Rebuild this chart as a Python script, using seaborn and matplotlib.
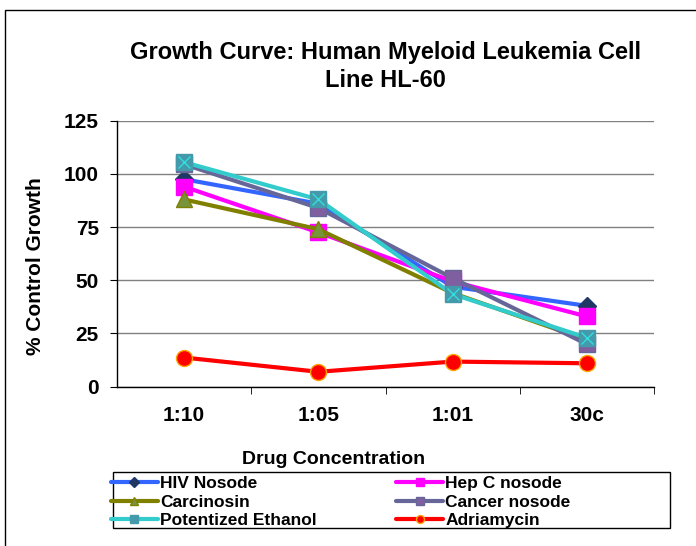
import numpy as np
import pandas as pd
import matplotlib
matplotlib.use("Agg")
import matplotlib.pyplot as plt
import seaborn as sns
from matplotlib.patches import Rectangle

# Valores
concentraciones = ["1:10", "1:05", "1:01", "30c"]
hiv_nosode = [97.5, 86, 47, 38]
hep_c_nosode = [94, 72.5, 49.5, 33]
carcinosin = [88, 74, 44, 22]
cancer_nosode = [104.5, 84, 51, 20]
etanol_potenciado = [105.5, 88, 43.5, 23]
adriamycin = [13.7, 7, 11.8, 11]

series = [
    ("HIV Nosode", hiv_nosode, "#3366FF", "D", "#1F3864", "#1F3864"),
    ("Hep C nosode", hep_c_nosode, "#FF00FF", "s", "#FF00FF", "#FF00FF"),
    ("Carcinosin", carcinosin, "#808000", "^", "#77933C", "#808000"),
    ("Cancer nosode", cancer_nosode, "#666699", "s", "#7F5F9F", "#666699"),
    ("Potentized Ethanol", etanol_potenciado, "#33CCCC", "s", "#4499AA", "#4499AA"),
    ("Adriamycin", adriamycin, "#FF0000", "o", "#FF0000", "#FFA500"),
]

sns.set_style("white")
plt.rcParams['font.family'] = ['Liberation Sans', 'DejaVu Sans']
plt.rcParams['font.weight'] = 'bold'
for clave in ['text.color', 'axes.labelcolor', 'xtick.color', 'ytick.color']:
    plt.rcParams[clave] = 'black'

fig = plt.figure(figsize=(6.96, 5.46), dpi=100)
ax = fig.add_axes([117 / 696, 1 - 386.7 / 546, 537 / 696, 266 / 546])

for nombre, valores, color, marcador, cara, borde in series:
    df = pd.DataFrame({"Concentracion": concentraciones, "Crecimiento": valores})
    sns.lineplot(data=df, x="Concentracion", y="Crecimiento", ax=ax, color=color,
                 linewidth=3, marker=marcador, markersize=11.5 if marcador != "D" else 9.5,
                 markerfacecolor=cara, markeredgecolor=borde, markeredgewidth=1,
                 label=nombre, sort=False)
    if nombre == "Potentized Ethanol":
        sns.lineplot(data=df, x="Concentracion", y="Crecimiento", ax=ax, color="#33CCCC",
                     linewidth=0, marker="x", markersize=9, markeredgewidth=1,
                     markeredgecolor="#33DDDD", legend=False, sort=False)

ax.set_xlim(-0.5, 3.5)
ax.set_ylim(0, 125)
ax.set_yticks([0, 25, 50, 75, 100, 125])
ax.yaxis.grid(True, color="#808080", linewidth=1)
ax.set_axisbelow(True)
for lado in ["top", "right"]:
    ax.spines[lado].set_visible(False)
for lado in ["left", "bottom"]:
    ax.spines[lado].set_color("black")
    ax.spines[lado].set_linewidth(1)

ax.set_xticks(range(len(concentraciones)))
ax.set_xticklabels(concentraciones)
ax.set_xticks([0.5, 1.5, 2.5, 3.5], minor=True)
ax.tick_params(axis="x", which="major", length=0, pad=14, labelsize=15)
ax.tick_params(axis="x", which="minor", length=5, direction="out", color="black")
ax.tick_params(axis="y", length=5, direction="out", color="black", labelsize=15, pad=8)
ax.tick_params(left=True, bottom=True)
ax.xaxis.set_tick_params(which="minor", bottom=True)

ax.set_title("Growth Curve: Human Myeloid Leukemia Cell\nLine HL-60",
             fontsize=17, fontweight="bold", pad=24, linespacing=1.3)
ax.set_xlabel("Drug Concentration", fontsize=14, fontweight="bold")
ax.xaxis.set_label_coords(0.404, -0.24)
ax.set_ylabel("% Control Growth", fontsize=15, fontweight="bold")
ax.yaxis.set_label_coords(-0.135, 0.454)

# Leyenda en dos columnas, ordenada por filas como el original
h, l = ax.get_legend_handles_labels()
ax.get_legend().remove()
orden = [0, 2, 4, 1, 3, 5]
fig.legend([h[i] for i in orden], [l[i] for i in orden], ncol=2,
           loc="upper left", bbox_to_anchor=(111 / 696, 1 - 476 / 546),
           fontsize=12.5, frameon=False, borderpad=0, labelspacing=0.2,
           handlelength=2.7, handletextpad=0.12, markerscale=0.5,
           borderaxespad=0, columnspacing=4.6)
fig.patches.append(Rectangle((113 / 696, 1 - 528 / 546), 557 / 696, 56 / 546,
                             transform=fig.transFigure, fill=False,
                             edgecolor="black", linewidth=1))

# Borde exterior del area del grafico
fig.patches.append(Rectangle((5 / 696, -0.1), 1.2, 1 - 10 / 546 + 0.1, transform=fig.transFigure,
                             fill=False, edgecolor="black", linewidth=1))

fig.savefig("out.png", dpi=100)
